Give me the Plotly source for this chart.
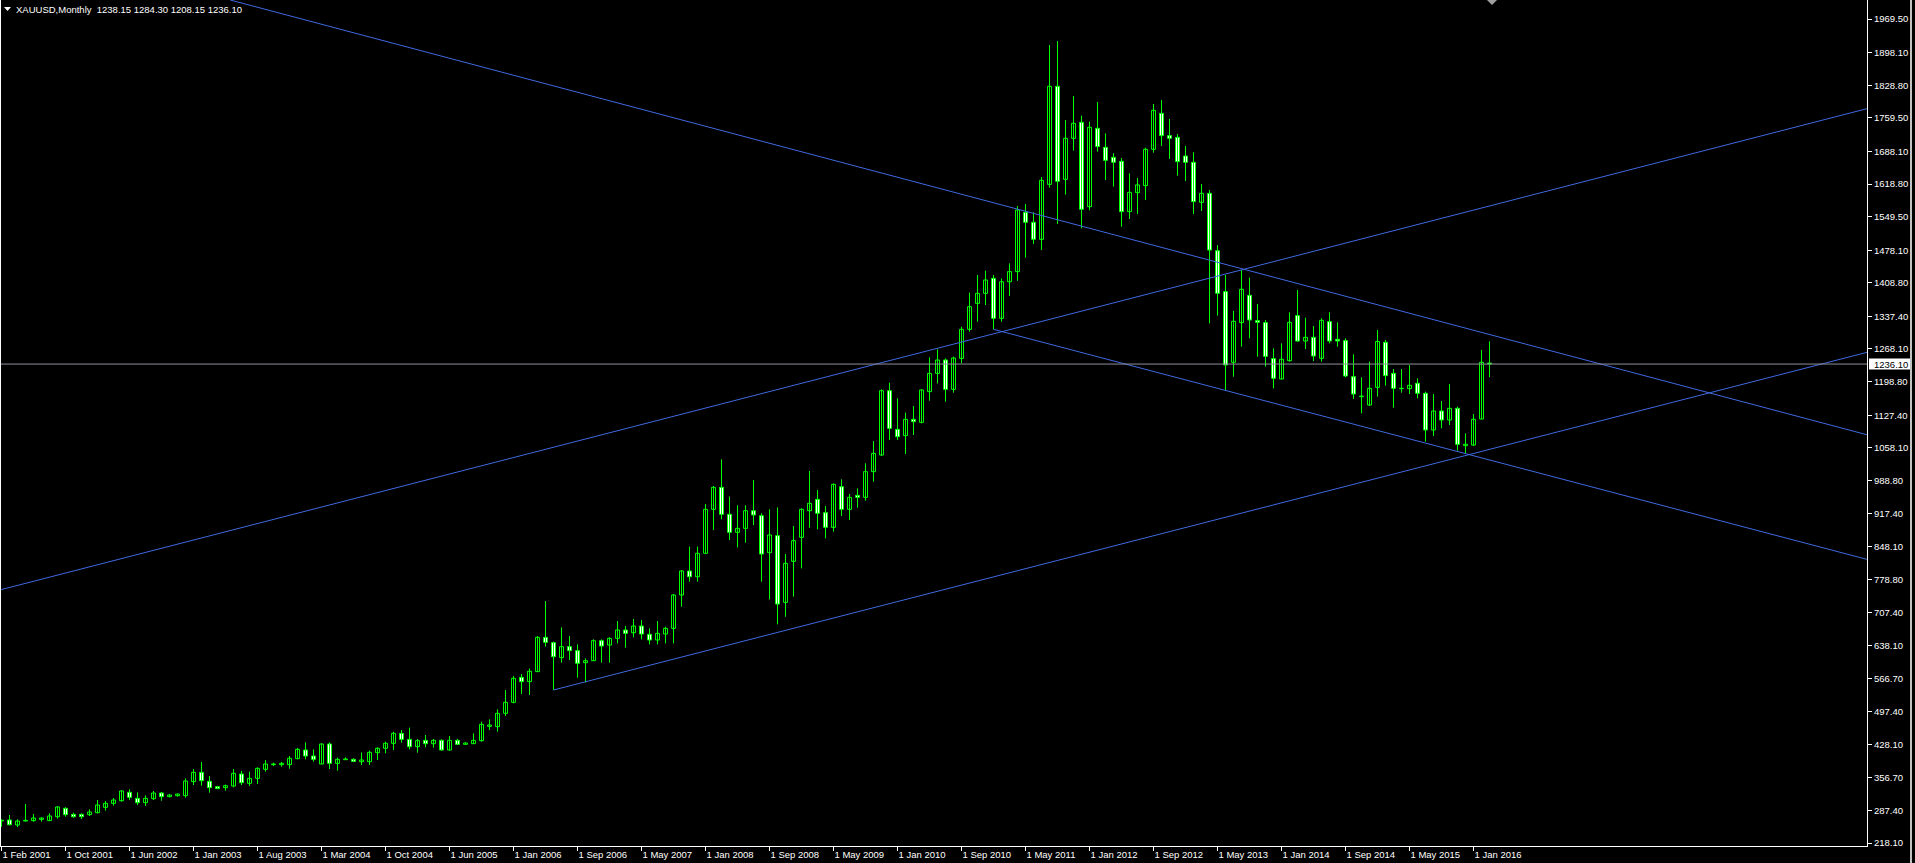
import plotly.graph_objects as go

# ---------------- data ----------------
tick_labels = ["1 Feb 2001", "1 Oct 2001", "1 Jun 2002", "1 Jan 2003", "1 Aug 2003",
               "1 Mar 2004", "1 Oct 2004", "1 Jun 2005", "1 Jan 2006", "1 Sep 2006",
               "1 May 2007", "1 Jan 2008", "1 Sep 2008", "1 May 2009", "1 Jan 2010",
               "1 Sep 2010", "1 May 2011", "1 Jan 2012", "1 Sep 2012", "1 May 2013",
               "1 Jan 2014", "1 Sep 2014", "1 May 2015", "1 Jan 2016"]
tick_every = 8  # one date label every 8 bars

price_ticks = [1969.50, 1898.10, 1828.80, 1759.50, 1688.10, 1618.80, 1549.50, 1478.10,
               1408.80, 1337.40, 1268.10, 1198.80, 1127.40, 1058.10, 988.80, 917.40,
               848.10, 778.80, 707.40, 638.10, 566.70, 497.40, 428.10, 356.70, 287.40, 218.10]

opens = [264.8, 267.0, 256.4, 264.8, 265.6, 268.4, 265.6, 274.0, 291.8, 279.0,
         279.0, 278.3, 282.5, 293.9, 302.4, 308.0, 325.8, 313.0, 303.8, 312.3,
         324.4, 316.6, 318.7, 318.7, 348.5, 368.3, 349.2, 337.8, 335.7, 339.3,
         364.8, 344.9, 355.5, 374.7, 384.6, 384.6, 384.6, 397.4, 415.8, 403.0,
         386.0, 428.5, 387.4, 395.2, 395.9, 390.9, 390.9, 410.1, 419.4, 429.9,
         451.2, 438.4, 422.8, 436.3, 429.2, 436.3, 415.8, 436.3, 427.8, 429.2,
         435.6, 466.1, 465.4, 493.7, 517.1, 570.2, 561.0, 582.3, 655.2, 643.9,
         612.0, 635.4, 626.9, 601.4, 605.6, 648.1, 638.9, 653.1, 670.8, 665.1,
         679.3, 661.6, 649.6, 662.3, 674.3, 745.2, 796.2, 784.1, 833.8, 927.3,
         974.0, 916.7, 878.4, 886.9, 924.4, 913.8, 835.2, 871.3, 729.6, 816.8,
         867.8, 924.4, 948.5, 920.2, 889.1, 975.4, 927.3, 957.0, 952.8, 1007.3,
         1042.8, 1179.5, 1097.3, 1083.9, 1118.6, 1112.2, 1177.4, 1216.3, 1244.7, 1182.3,
         1248.2, 1309.9, 1365.1, 1386.4, 1418.3, 1333.3, 1411.0, 1432.5, 1558.6, 1537.4,
         1501.2, 1618.0, 1826.4, 1628.7, 1715.9, 1749.9, 1570.6, 1737.2, 1696.8, 1675.5,
         1667.0, 1560.0, 1600.4, 1615.3, 1692.5, 1769.0, 1721.6, 1718.0, 1678.3, 1664.9,
         1579.9, 1599.0, 1477.0, 1390.0, 1239.8, 1324.1, 1382.2, 1328.4, 1324.1, 1247.6,
         1204.4, 1243.3, 1339.0, 1285.1, 1292.9, 1248.3, 1326.2, 1288.7, 1285.8, 1209.3,
         1166.8, 1149.1, 1186.6, 1282.3, 1216.4, 1183.8, 1183.8, 1195.2, 1173.9, 1096.0,
         1136.3, 1117.2, 1142.0, 1062.6, 1064.0, 1119.3, 1238.15]

highs = [268.4, 277.6, 268.4, 301.0, 279.7, 272.6, 281.1, 296.7, 293.9, 282.5,
         281.1, 289.6, 309.5, 307.3, 313.7, 330.7, 332.1, 325.8, 319.4, 328.6,
         326.5, 322.2, 323.0, 355.5, 375.4, 390.3, 360.5, 339.3, 342.1, 375.4,
         371.1, 369.7, 378.9, 394.5, 388.8, 390.3, 403.0, 420.0, 432.0, 417.2,
         429.9, 432.0, 399.5, 400.2, 398.1, 410.8, 414.4, 421.5, 433.5, 454.7,
         458.3, 463.2, 439.1, 447.6, 439.1, 438.4, 445.5, 439.1, 432.0, 451.2,
         476.0, 480.9, 502.2, 543.3, 573.0, 577.3, 589.0, 658.0, 732.4, 646.0,
         676.5, 658.0, 640.3, 610.6, 651.0, 651.0, 655.2, 689.9, 679.3, 694.2,
         692.1, 674.3, 689.9, 677.9, 747.3, 798.3, 848.0, 848.0, 938.6, 977.0,
         1033.6, 954.2, 935.8, 935.8, 989.6, 918.8, 927.3, 931.5, 832.3, 891.9,
         929.4, 1008.8, 968.4, 934.4, 982.5, 991.0, 959.9, 971.9, 1025.1, 1072.5,
         1182.3, 1196.5, 1163.2, 1132.7, 1146.9, 1183.0, 1250.4, 1267.4, 1248.2, 1251.8,
         1315.5, 1387.8, 1425.4, 1434.6, 1425.4, 1418.0, 1450.0, 1572.0, 1576.3, 1558.6,
         1633.7, 1914.3, 1922.8, 1754.8, 1805.9, 1764.0, 1751.3, 1793.1, 1726.5, 1684.0,
         1674.0, 1641.5, 1631.6, 1696.1, 1788.9, 1797.4, 1757.0, 1725.0, 1699.6, 1686.1,
         1618.8, 1606.0, 1489.0, 1425.4, 1348.9, 1436.0, 1419.8, 1363.8, 1329.8, 1269.5,
         1280.0, 1346.0, 1393.5, 1334.7, 1317.0, 1333.3, 1346.0, 1324.8, 1290.8, 1256.8,
         1207.9, 1241.2, 1308.5, 1287.3, 1225.6, 1225.6, 1234.0, 1205.8, 1177.4, 1172.4,
         1157.6, 1193.7, 1145.5, 1088.9, 1130.0, 1266.0, 1284.30]

lows = [252.8, 255.7, 252.1, 264.0, 263.4, 263.4, 265.6, 269.8, 274.0, 271.9,
        269.1, 275.5, 281.1, 286.8, 297.4, 305.9, 309.5, 298.8, 296.7, 309.5,
        308.0, 315.2, 316.6, 314.4, 341.4, 339.9, 325.1, 332.9, 329.3, 336.4,
        341.4, 339.3, 343.5, 369.7, 381.7, 380.3, 376.1, 395.9, 395.9, 390.9,
        386.0, 375.4, 371.8, 394.5, 390.9, 383.9, 383.9, 394.5, 408.7, 415.8,
        431.3, 417.2, 410.1, 421.5, 420.7, 414.4, 414.4, 426.4, 427.1, 429.2,
        433.5, 458.3, 454.7, 488.0, 515.0, 534.8, 532.6, 582.0, 635.4, 543.3,
        601.4, 607.0, 569.5, 559.5, 605.0, 601.4, 601.4, 642.5, 633.3, 655.2,
        651.0, 640.3, 640.3, 642.5, 642.5, 720.4, 773.5, 773.5, 833.8, 883.4,
        906.0, 862.1, 846.5, 856.4, 894.0, 773.5, 736.0, 682.9, 699.1, 741.7,
        801.9, 888.3, 884.8, 865.6, 879.8, 913.1, 904.6, 930.8, 945.7, 986.1,
        1040.6, 1074.7, 1074.7, 1044.9, 1085.3, 1110.1, 1158.3, 1195.0, 1156.1, 1175.3,
        1237.6, 1304.9, 1326.2, 1361.6, 1309.9, 1326.0, 1380.8, 1413.0, 1462.3, 1491.3,
        1478.5, 1611.0, 1533.8, 1596.1, 1689.7, 1524.6, 1563.0, 1687.5, 1627.3, 1613.2,
        1528.0, 1544.4, 1555.0, 1584.8, 1685.4, 1699.6, 1672.0, 1636.5, 1625.2, 1555.0,
        1561.4, 1322.7, 1339.0, 1180.9, 1209.3, 1273.0, 1290.8, 1251.8, 1230.6, 1184.5,
        1203.7, 1241.2, 1283.7, 1268.1, 1242.6, 1241.2, 1280.1, 1273.0, 1207.9, 1161.8,
        1131.4, 1147.0, 1166.8, 1190.2, 1143.4, 1175.3, 1172.4, 1163.2, 1071.1, 1083.2,
        1099.5, 1106.6, 1052.0, 1045.0, 1061.9, 1119.3, 1208.15]

closes = [266.3, 257.0, 264.8, 266.3, 271.2, 271.2, 275.5, 294.6, 278.3, 274.0,
          274.0, 283.9, 298.8, 302.4, 309.5, 328.6, 315.2, 303.8, 313.0, 324.4,
          316.6, 320.1, 322.2, 349.9, 368.3, 350.6, 335.7, 333.6, 339.9, 366.2,
          346.3, 355.5, 376.8, 386.0, 386.0, 387.4, 398.1, 417.2, 403.0, 395.9,
          428.5, 387.4, 395.9, 396.6, 391.6, 394.5, 410.8, 419.4, 429.9, 451.2,
          438.4, 422.8, 435.6, 429.2, 436.3, 415.8, 436.3, 427.8, 430.6, 436.3,
          470.3, 468.9, 493.7, 517.1, 568.1, 561.0, 583.0, 655.2, 644.6, 614.1,
          635.4, 626.9, 600.0, 605.6, 648.1, 636.8, 653.1, 670.8, 663.7, 679.3,
          662.3, 649.6, 663.7, 674.3, 745.2, 796.2, 784.1, 833.8, 927.3, 974.0,
          916.7, 878.4, 886.9, 924.4, 915.3, 832.3, 872.8, 726.0, 812.5, 860.7,
          927.3, 940.0, 918.8, 889.1, 980.4, 927.3, 952.8, 952.8, 1007.3, 1046.3,
          1179.5, 1099.4, 1081.7, 1118.6, 1113.6, 1180.9, 1216.3, 1244.7, 1182.3, 1248.9,
          1309.9, 1358.0, 1386.4, 1414.8, 1333.3, 1411.0, 1432.5, 1563.6, 1537.4, 1501.2,
          1626.6, 1826.4, 1624.5, 1715.9, 1747.8, 1565.0, 1739.3, 1698.2, 1669.1, 1664.9,
          1560.0, 1601.0, 1616.7, 1692.5, 1775.4, 1721.6, 1715.9, 1666.3, 1664.9, 1581.3,
          1599.0, 1478.5, 1386.4, 1234.1, 1327.0, 1395.0, 1329.8, 1324.8, 1252.5, 1205.8,
          1246.2, 1324.8, 1285.1, 1292.9, 1253.2, 1329.0, 1285.1, 1285.1, 1210.7, 1172.4,
          1168.0, 1184.5, 1284.1, 1211.4, 1184.5, 1184.5, 1190.9, 1173.9, 1096.0, 1136.3,
          1117.2, 1142.0, 1065.5, 1065.5, 1118.6, 1239.8, 1236.10]

bid_price = 1236.10
title_text = "XAUUSD,Monthly  1238.15 1284.30 1208.15 1236.10"

# trend lines: two anchor points (bar index, price) each
line_a = ([28.59, 187.33], [2009.88, 1292.9])   # upper falling channel line
line_b = ([124.0, 185.7], [1309.9, 1033.6])     # lower falling channel line
line_c = ([122.3, 187.3], [1292.9, 1577.8])     # upper rising line
line_d = ([69.0, 187.3], [543.3, 1060.4])       # lower rising line

# ---------------- geometry ----------------
W, H = 1915, 863
ML, MR, MT, MB = 0, 48, 0, 17
PW, PH = W - ML - MR, H - MT - MB
X0 = -1.5 / 8.0
X_RANGE = [X0, X0 + PW / 8.0]
Y_RANGE = [211.72, 2009.88]

GREEN = "#00FF00"
BLUE = "#4169E1"
BIDGRAY = "#8c9099"
FONT = "Liberation Sans"
FS = 9.5

n = len(opens)
idx = list(range(n))

fig = go.Figure()

# wicks
wx, wy = [], []
for i in idx:
    wx += [i, i, None]
    wy += [lows[i], highs[i], None]
fig.add_trace(go.Scatter(x=wx, y=wy, mode="lines",
                         line=dict(color=GREEN, width=1), hoverinfo="skip"))

# bodies
bases = [min(o, c) for o, c in zip(opens, closes)]
heights = [max(abs(c - o), 0.8) for o, c in zip(opens, closes)]
fills = ["#000000" if c >= o else "#FFFFFF" for o, c in zip(opens, closes)]
fig.add_trace(go.Bar(x=idx, y=heights, base=bases, width=0.5,
                     marker=dict(color=fills, line=dict(color=GREEN, width=1)),
                     hoverinfo="skip"))


def ray(pts, x_start=None, x_end=X_RANGE[1] + 1):
    (x0, x1), (y0, y1) = pts
    s = (y1 - y0) / (x1 - x0)
    xs = x0 if x_start is None else x_start
    return [xs, x_end], [y0 + s * (xs - x0), y0 + s * (x_end - x0)]


for pts, xs in [(line_a, None), (line_b, None), (line_c, X_RANGE[0] - 1), (line_d, None)]:
    lx, ly = ray(pts, xs)
    fig.add_trace(go.Scatter(x=lx, y=ly, mode="lines",
                             line=dict(color=BLUE, width=1), hoverinfo="skip"))

# bid line
fig.add_trace(go.Scatter(x=[X_RANGE[0] - 1, X_RANGE[1] + 1], y=[bid_price, bid_price],
                         mode="lines", line=dict(color=BIDGRAY, width=1), hoverinfo="skip"))

px2paper_x = lambda px: (px - ML) / PW
px2paper_y = lambda py: 1 - (py - MT) / PH
ppu = (Y_RANGE[1] - Y_RANGE[0]) / PH  # price per pixel

shapes = [
    # bid price label box
    dict(type="rect", xref="paper", yref="y", x0=px2paper_x(1869), x1=px2paper_x(1910),
         y0=bid_price - 5.5 * ppu, y1=bid_price + 5.5 * ppu,
         fillcolor="#FFFFFF", line=dict(width=0), layer="above"),
    # window border at right
    dict(type="rect", xref="paper", yref="paper", x0=px2paper_x(1910), x1=px2paper_x(1912),
         y0=px2paper_y(H), y1=px2paper_y(0), fillcolor="#C0C0C0", line=dict(width=0)),
    # left border
    dict(type="line", xref="paper", yref="paper", x0=px2paper_x(0.5), x1=px2paper_x(0.5),
         y0=0, y1=1, line=dict(color="#FFFFFF", width=1)),
    # title triangle
    dict(type="path", xref="paper", yref="paper",
         path=f"M {px2paper_x(4)},{px2paper_y(7)} L {px2paper_x(11)},{px2paper_y(7)} "
              f"L {px2paper_x(7.5)},{px2paper_y(11)} Z",
         fillcolor="#FFFFFF", line=dict(width=0)),
    # chart shift marker
    dict(type="path", xref="paper", yref="paper",
         path=f"M {px2paper_x(1487)},{px2paper_y(0)} L {px2paper_x(1497)},{px2paper_y(0)} "
              f"L {px2paper_x(1492)},{px2paper_y(5)} Z",
         fillcolor="#A0A0A0", line=dict(width=0)),
]

annotations = [
    dict(text=title_text, xref="paper", yref="paper", x=px2paper_x(14), y=px2paper_y(2),
         xanchor="left", yanchor="top", showarrow=False,
         font=dict(family=FONT, size=FS, color="#FFFFFF")),
    dict(text=f"{bid_price:.2f}", xref="paper", yref="y", x=px2paper_x(1872), y=bid_price,
         xanchor="left", yanchor="middle", showarrow=False,
         font=dict(family=FONT, size=FS, color="#000000")),
    dict(text="Activate Windows", xref="paper", yref="paper", x=px2paper_x(1603),
         y=px2paper_y(856), xanchor="left", yanchor="top", showarrow=False,
         font=dict(family="Noto Sans", size=15, color="#555555")),
]

fig.update_layout(
    width=W, height=H, autosize=False,
    margin=dict(l=ML, r=MR, t=MT, b=MB, pad=0),
    paper_bgcolor="#000000", plot_bgcolor="#000000",
    showlegend=False, hovermode=False, barmode="overlay",
    shapes=shapes, annotations=annotations,
    xaxis=dict(range=X_RANGE, tickvals=[k * tick_every for k in range(len(tick_labels))],
               ticktext=tick_labels, ticks="outside", ticklen=4, tickcolor="#FFFFFF",
               showline=True, linecolor="#FFFFFF", linewidth=1, showgrid=False,
               zeroline=False, ticklabelposition="outside right",
               tickfont=dict(family=FONT, size=FS, color="#FFFFFF"), fixedrange=True),
    yaxis=dict(range=Y_RANGE, side="right", tickvals=price_ticks,
               ticktext=[f"{p:.2f}" for p in price_ticks], ticks="outside", ticklen=4,
               tickcolor="#FFFFFF", showline=True, linecolor="#FFFFFF", linewidth=1,
               showgrid=False, zeroline=False,
               tickfont=dict(family=FONT, size=FS, color="#FFFFFF"), fixedrange=True),
)

fig.write_html("out.html", config={"displayModeBar": False, "staticPlot": True},
               post_script="document.body.style.margin='0px';"
                           "document.body.style.background='#000000';"
                           "document.body.style.overflow='hidden';")
